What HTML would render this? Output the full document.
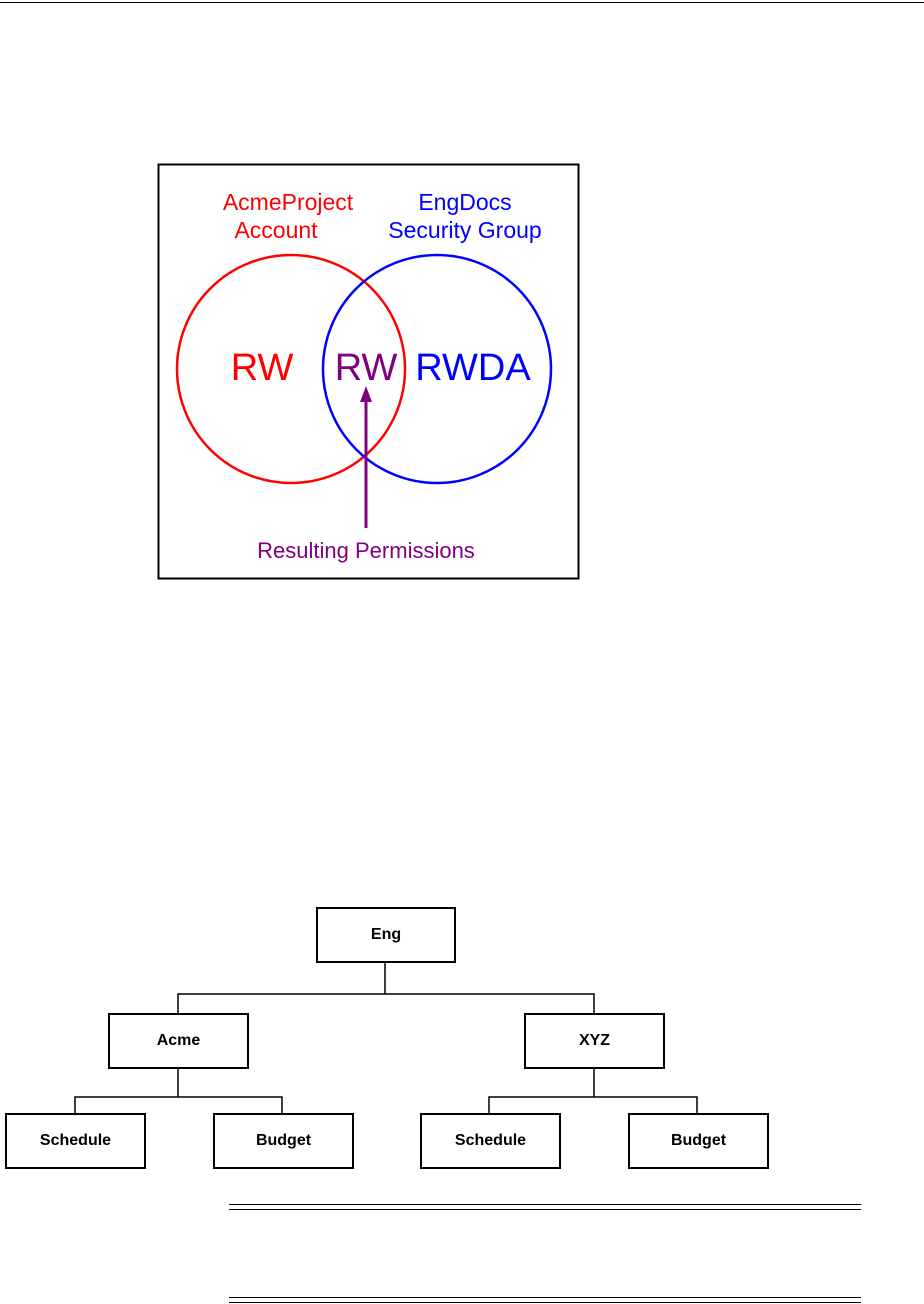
<!DOCTYPE html>
<html><head><style>
body{margin:0;width:924px;height:1304px;background:#fff;position:relative;overflow:hidden;font-family:"Liberation Sans",sans-serif}
.b{position:absolute;border:2px solid #000;box-sizing:border-box;background:#fff;display:flex;align-items:center;justify-content:center;font-weight:bold;font-size:16px;letter-spacing:0px}
.l{position:absolute;background:#000}
</style></head><body>
<div class="l" style="left:0;top:2px;width:924px;height:1px"></div>
<svg style="position:absolute;left:0;top:0" width="924" height="600">
<rect x="158.5" y="164.5" width="420" height="414" fill="#fff" stroke="#000" stroke-width="2"/>
<circle cx="291" cy="369" r="114" fill="none" stroke="#f00" stroke-width="2.5"/>
<circle cx="437" cy="369" r="114" fill="none" stroke="#00f" stroke-width="2.5"/>
<g font-family="Liberation Sans, sans-serif" text-anchor="middle">
<text x="288" y="210" font-size="23" fill="#f00">AcmeProject</text>
<text x="276" y="238" font-size="23" fill="#f00">Account</text>
<text x="465" y="210" font-size="23" fill="#00f">EngDocs</text>
<text x="465" y="238" font-size="23" fill="#00f">Security Group</text>
<text x="262" y="380" font-size="38" fill="#f00">RW</text>
<text x="366" y="380" font-size="38" fill="#800080">RW</text>
<text x="473" y="380" font-size="38" fill="#00f">RWDA</text>
<text x="366" y="558" font-size="22" fill="#800080">Resulting Permissions</text>
</g>
<line x1="366" y1="528" x2="366" y2="400" stroke="#800080" stroke-width="3"/>
<polygon points="366,386 360,402 372,402" fill="#800080"/>
</svg>
<svg style="position:absolute;left:0;top:0" width="924" height="1304">
<g stroke="#000" stroke-width="1.5" fill="none">
<path d="M385 962V994M178 1013V994H594V1013"/>
<path d="M178 1069V1097M75 1114V1097H282V1114"/>
<path d="M594 1069V1097M489 1114V1097H697V1114"/>
</g>
</svg>
<div class="b" style="left:316px;top:907px;width:140px;height:56px">Eng</div>
<div class="b" style="left:108px;top:1013px;width:141px;height:56px">Acme</div>
<div class="b" style="left:524px;top:1013px;width:141px;height:56px">XYZ</div>
<div class="b" style="left:5px;top:1113px;width:141px;height:56px">Schedule</div>
<div class="b" style="left:213px;top:1113px;width:141px;height:56px">Budget</div>
<div class="b" style="left:420px;top:1113px;width:141px;height:56px">Schedule</div>
<div class="b" style="left:628px;top:1113px;width:141px;height:56px">Budget</div>
<div class="l" style="left:229px;top:1204px;width:632px;height:1px"></div>
<div class="l" style="left:229px;top:1209px;width:632px;height:1px"></div>
<div class="l" style="left:229px;top:1297px;width:632px;height:1px"></div>
<div class="l" style="left:229px;top:1302px;width:632px;height:1px"></div>
</body></html>
